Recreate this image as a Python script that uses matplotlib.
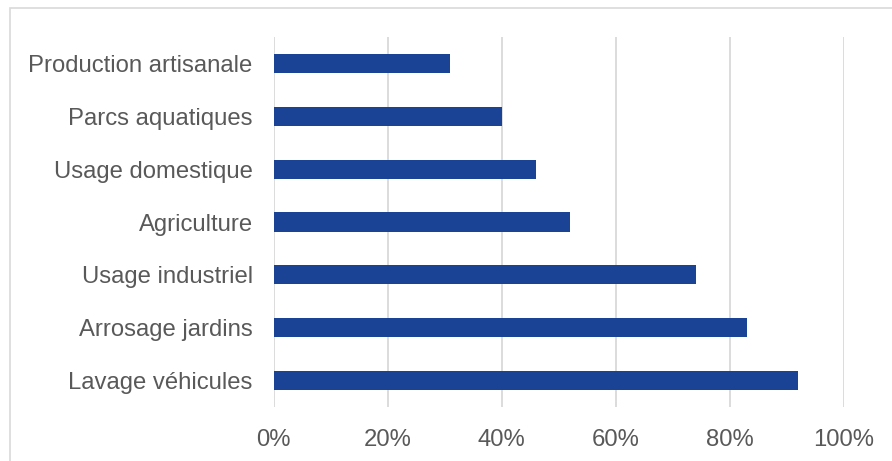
import matplotlib
matplotlib.use("Agg")
import matplotlib.pyplot as plt
from matplotlib.patches import Rectangle
from matplotlib.ticker import FuncFormatter

plt.rcParams["font.family"] = ["Liberation Sans", "DejaVu Sans"]

categories = [
    "Production artisanale",
    "Parcs aquatiques",
    "Usage domestique",
    "Agriculture",
    "Usage industriel",
    "Arrosage jardins",
    "Lavage véhicules",
]
shares = [0.31, 0.40, 0.46, 0.52, 0.74, 0.83, 0.92]
x_ticks = [0.0, 0.2, 0.4, 0.6, 0.8, 1.0]

W, H = 892, 461
fig = plt.figure(figsize=(W / 100, H / 100), dpi=100)
ax = fig.add_axes([273.5 / W, 1 - 407 / H, (844 - 273.5) / W, 370 / H])

# outer chart frame, clipped by the right/bottom edge
fig.patches.append(Rectangle((10 / W, -0.05), 1.0, 1 - 8 / H + 0.05,
                             transform=fig.transFigure, fill=False,
                             edgecolor="#d9d9d9", linewidth=1.2))

ypos = list(range(len(categories)))
ax.barh(ypos, shares, height=0.36, color="#1a4396", zorder=3)

ax.set_xlim(0, 1)
ax.set_ylim(len(categories) - 0.5, -0.5)
ax.set_xticks(x_ticks)
ax.xaxis.set_major_formatter(FuncFormatter(lambda v, _: f"{v * 100:.0f}%"))
ax.set_yticks(ypos)
ax.set_yticklabels(categories)

ax.grid(axis="x", color="#d9d9d9", linewidth=1.3, zorder=0)
for s in ax.spines.values():
    s.set_visible(False)
ax.tick_params(axis="both", length=0, labelsize=17.2, labelcolor="#595959")
ax.tick_params(axis="x", pad=16)
ax.tick_params(axis="y", pad=15)

fig.savefig("out.png", dpi=100)
